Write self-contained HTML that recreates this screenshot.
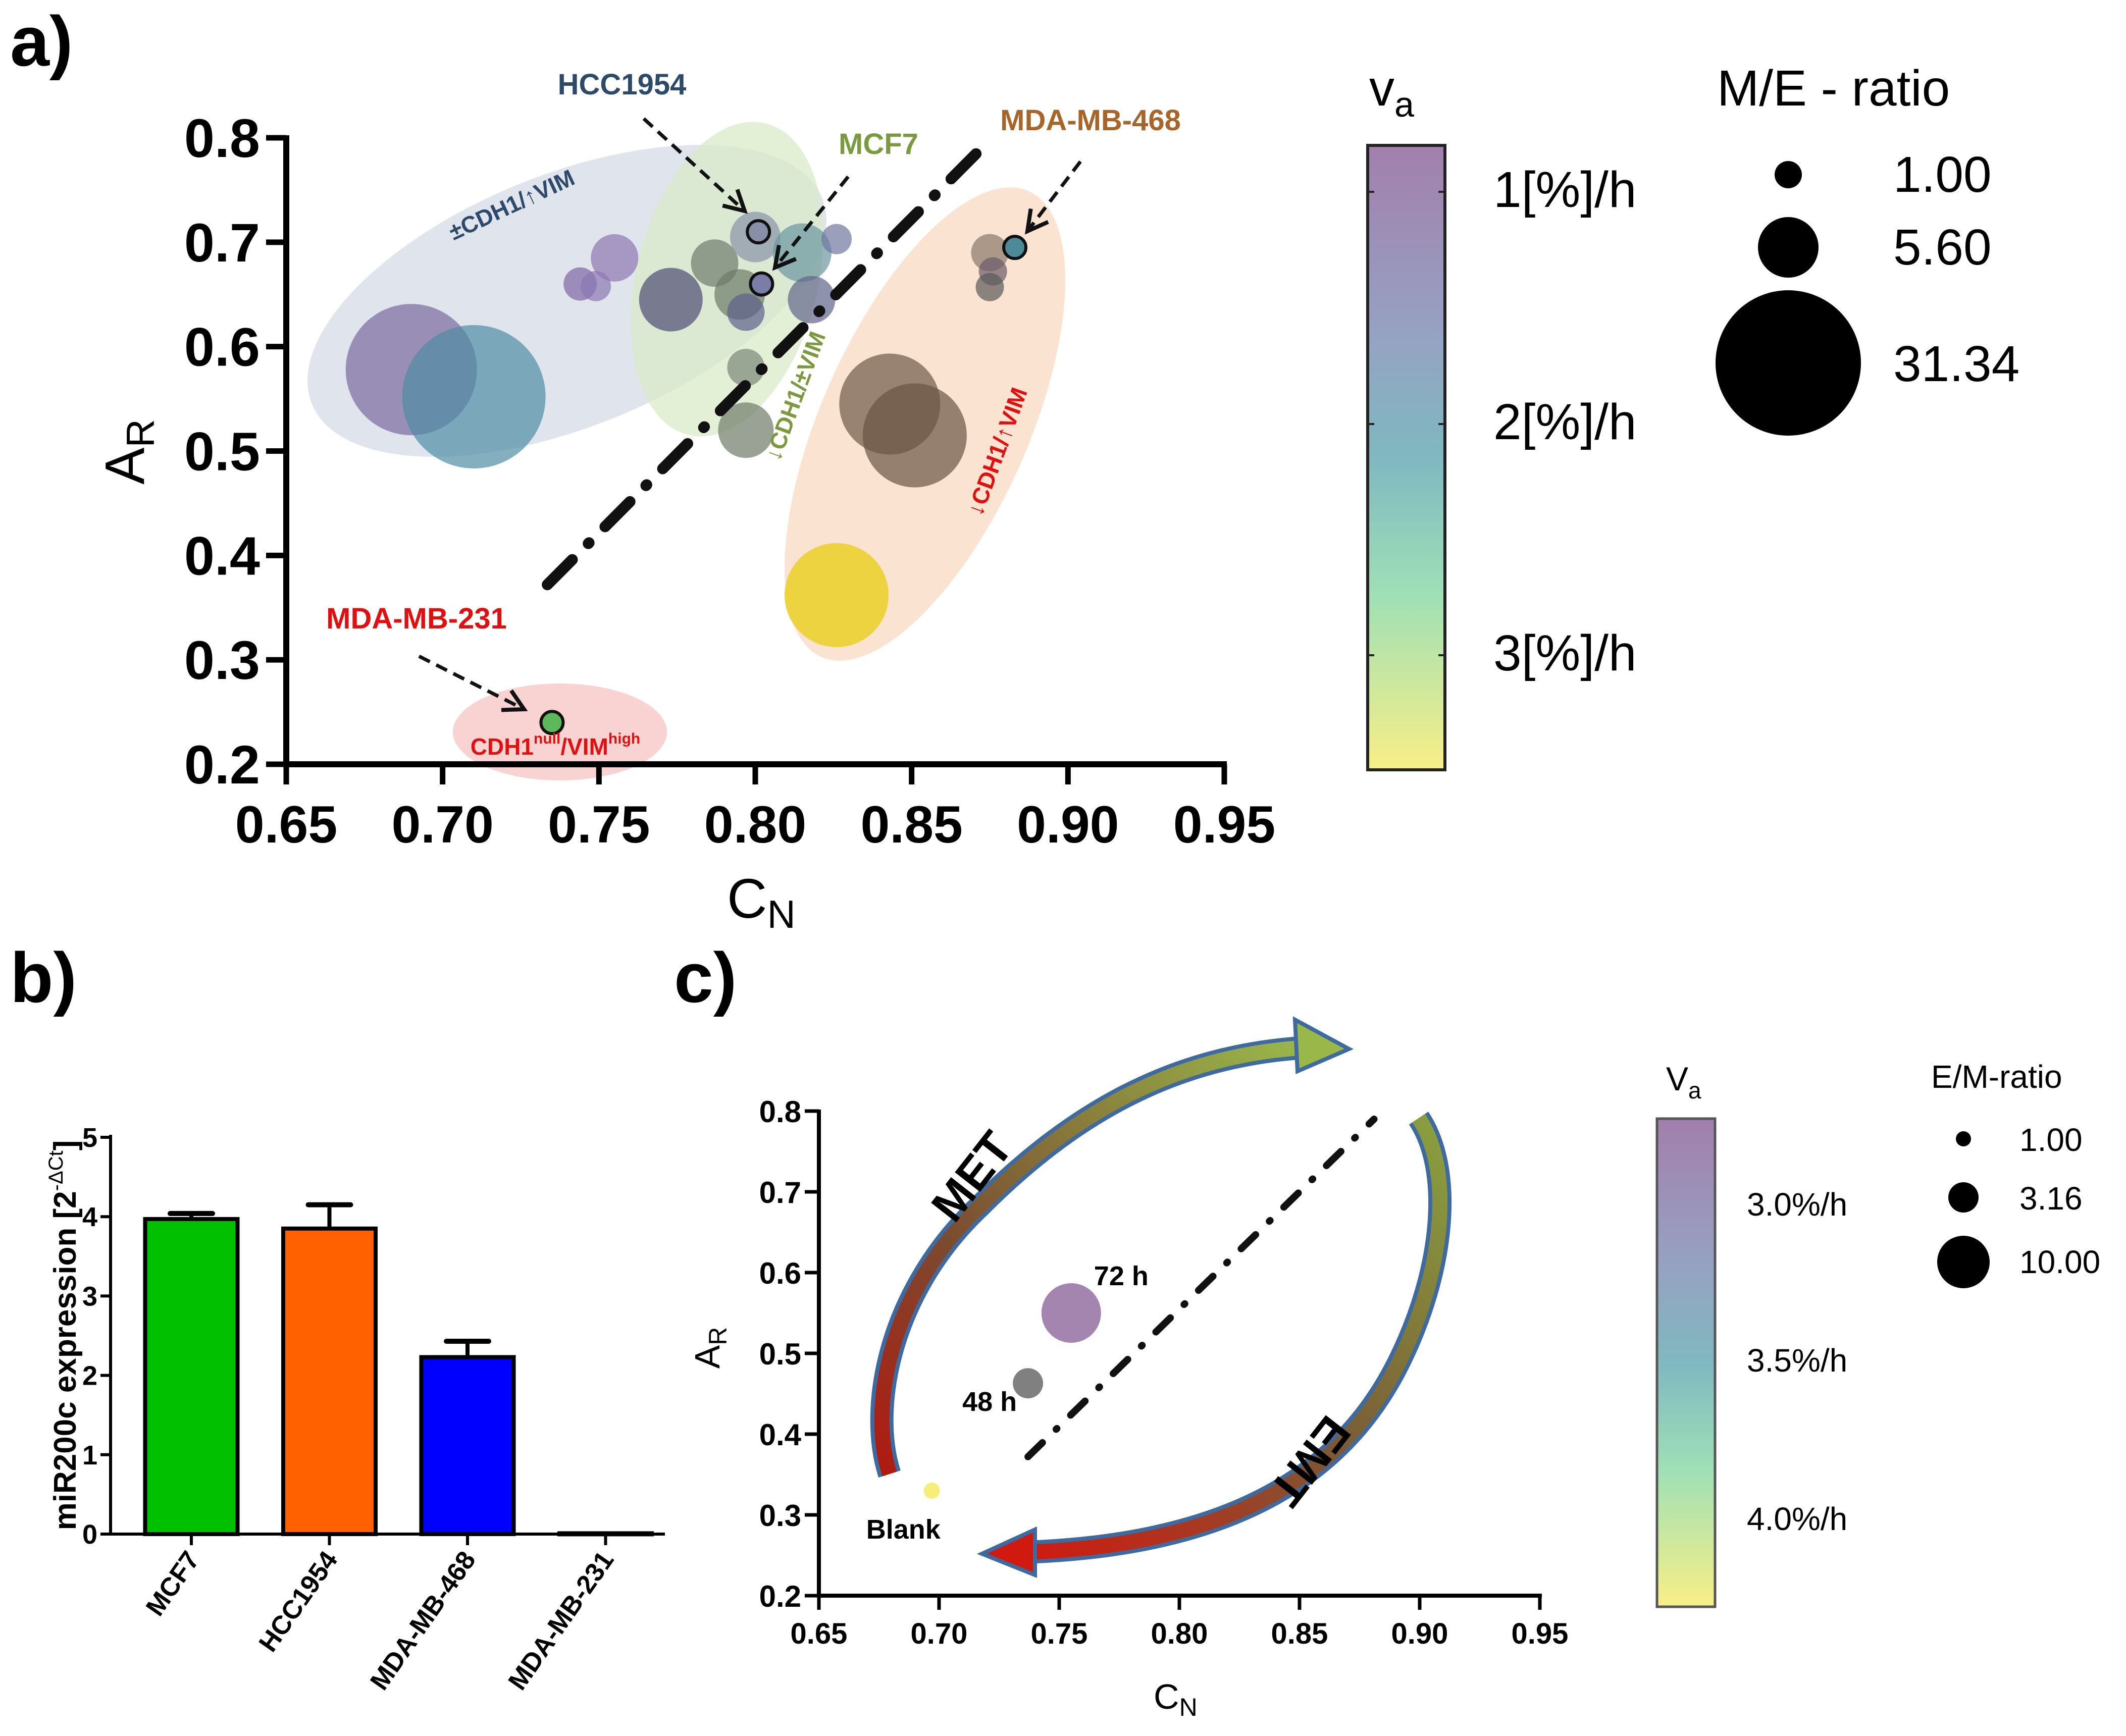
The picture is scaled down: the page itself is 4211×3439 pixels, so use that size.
<!DOCTYPE html>
<html><head><meta charset="utf-8"><style>
html,body{margin:0;padding:0;background:#fff}
svg{display:block}
text{font-family:"Liberation Sans",sans-serif}
</style></head><body>
<svg id="fig" width="4211" height="3439" viewBox="0 0 4211 3439" xmlns="http://www.w3.org/2000/svg">
<defs>
<linearGradient id="cmap" x1="0" y1="0" x2="0" y2="1">
<stop offset="0" stop-color="#a27fad"/><stop offset="0.3" stop-color="#96a2c2"/><stop offset="0.5" stop-color="#7fb8c0"/><stop offset="0.72" stop-color="#9fe0b6"/><stop offset="1" stop-color="#f8ef86"/>
</linearGradient>
<linearGradient id="metg" x1="0" y1="1" x2="1" y2="0">
<stop offset="0" stop-color="#b01a10"/><stop offset="0.35" stop-color="#7a4b30"/><stop offset="1" stop-color="#9ab84a"/>
</linearGradient>
<linearGradient id="emtg" x1="1" y1="0" x2="0" y2="1">
<stop offset="0" stop-color="#8aa040"/><stop offset="0.5" stop-color="#7a5a35"/><stop offset="1" stop-color="#d01a10"/>
</linearGradient>
</defs>

<text x="20" y="130" font-size="140" font-weight="bold">a)</text>
<text x="20" y="1985" font-size="140" font-weight="bold">b)</text>
<text x="1335" y="1985" font-size="140" font-weight="bold">c)</text>

<g id="pa">
 <ellipse cx="1123" cy="596" rx="545" ry="250" transform="rotate(-22 1123 596)" fill="#dadfea" opacity="0.85"/>
 <ellipse cx="1440" cy="553" rx="180" ry="318" transform="rotate(14 1440 553)" fill="#d9ebc8" opacity="0.75"/>
 <ellipse cx="1832" cy="840" rx="205" ry="505" transform="rotate(24 1832 840)" fill="#fbe0cc" opacity="0.9"/>
 <ellipse cx="1109" cy="1450" rx="212" ry="96" fill="#f9d3d1"/>
</g>

<g id="pb"></g>
<g id="pc"></g>

<text x="2712" y="209" font-size="100">v<tspan font-size="70" dy="22">a</tspan></text>
<rect x="2709" y="288" width="153" height="1237" fill="url(#cmap)" stroke="#222" stroke-width="6"/>
<g font-size="100">
 <line x1="2709" y1="380" x2="2722" y2="380" stroke="#222" stroke-width="4"/><line x1="2849" y1="380" x2="2862" y2="380" stroke="#222" stroke-width="4"/>
 <line x1="2709" y1="840" x2="2722" y2="840" stroke="#222" stroke-width="4"/><line x1="2849" y1="840" x2="2862" y2="840" stroke="#222" stroke-width="4"/>
 <line x1="2709" y1="1298" x2="2722" y2="1298" stroke="#222" stroke-width="4"/><line x1="2849" y1="1298" x2="2862" y2="1298" stroke="#222" stroke-width="4"/>
 <text x="2958" y="410">1[%]/h</text><text x="2958" y="870">2[%]/h</text><text x="2958" y="1328">3[%]/h</text>
</g>
<text x="3401" y="209" font-size="100">M/E - ratio</text>
<g>
 <circle cx="3542" cy="346" r="27"/><circle cx="3542" cy="490" r="60"/><circle cx="3542" cy="719" r="144"/>
 <g font-size="100"><text x="3750" y="380">1.00</text><text x="3750" y="524">5.60</text><text x="3750" y="755">31.34</text></g>
</g>

<text x="3300" y="2160" font-size="66">V<tspan font-size="46" dy="16">a</tspan></text>
<rect x="3282" y="2216" width="115" height="967" fill="url(#cmap)" stroke="#555" stroke-width="5"/>
<g font-size="64">
 <text x="3460" y="2408">3.0%/h</text><text x="3460" y="2717">3.5%/h</text><text x="3460" y="3031">4.0%/h</text>
</g>
<text x="3825" y="2155" font-size="64">E/M-ratio</text>
<g>
 <circle cx="3889" cy="2256" r="15"/><circle cx="3889" cy="2372" r="30"/><circle cx="3889" cy="2500" r="52"/>
 <g font-size="64"><text x="4000" y="2280">1.00</text><text x="4000" y="2396">3.16</text><text x="4000" y="2522">10.00</text></g>
</g>
</svg>
<script>
var NS='http://www.w3.org/2000/svg';
function mk(parent,tag,attrs){var e=document.createElementNS(NS,tag);for(var k in attrs)e.setAttribute(k,attrs[k]);parent.appendChild(e);return e;}

/* ---------- Panel a data ---------- */
var aXTicks=[0.65,0.70,0.75,0.80,0.85,0.90,0.95];
var aYTicks=[0.2,0.3,0.4,0.5,0.6,0.7,0.8];
var aCN=[0.690,0.710,0.755,0.744,0.749,0.773,0.787,0.800,0.815,0.826,0.795,0.797,0.818,0.797,0.797,0.875,0.876,0.875,0.843,0.851,0.826];
var aAR=[0.578,0.552,0.685,0.660,0.658,0.645,0.680,0.705,0.690,0.703,0.650,0.633,0.645,0.580,0.520,0.690,0.672,0.657,0.545,0.515,0.362];
var aSize=[130,142,47,33,30,63,47,50,58,30,50,37,47,37,55,37,28,28,100,103,103];
var aColor=['#7a6a9e','#4f8da4','#8f78b0','#7d66a6','#8a78b3','#4e4c72','#6f7a6e','#8a92a6','#6a95a0','#6f78a0','#6c7a68','#5d5f8a','#5f648a','#7b8677','#6f7a6a','#8a786a','#6a5a68','#5a5a5a','#6e5848','#6a5444','#ecd237'];
var aHiCN=[0.801,0.802,0.883,0.735];
var aHiAR=[0.710,0.660,0.695,0.240];
var aHiColor=['#8a8fa8','#7a7ea6','#4c8a98','#5cb85a'];
var aDivCN=[0.7335,0.875], aDivAR=[0.372,0.798];

var ax0=567,ax1=2425,ay0=1514,ay1=273;
function axX(v){return ax0+(v-0.65)/(0.95-0.65)*(ax1-ax0);}
function axY(v){return ay0-(v-0.2)/(0.8-0.2)*(ay0-ay1);}
var pa=document.getElementById('pa');
for(var i=0;i<aCN.length;i++){
 var c=mk(pa,'circle',{cx:axX(aCN[i]),cy:axY(aAR[i]),r:aSize[i],fill:aColor[i],'fill-opacity':i==20?0.95:0.7});
 
 
}
for(var i=0;i<aHiCN.length;i++){
 var c=mk(pa,'circle',{cx:axX(aHiCN[i]),cy:axY(aHiAR[i]),r:22,fill:aHiColor[i],stroke:'#111','stroke-width':6});
 
 
}
var dl=mk(pa,'line',{x1:axX(aDivCN[0]),y1:axY(aDivAR[0]),x2:axX(aDivCN[1]),y2:axY(aDivAR[1]),stroke:'#111','stroke-width':22,'stroke-dasharray':'70 45 2 45','stroke-linecap':'round'});



var axg=mk(pa,'g',{});


mk(axg,'line',{x1:ax0,y1:ay1-5,x2:ax0,y2:ay0+5,stroke:'#000','stroke-width':12});
mk(axg,'line',{x1:ax0-5,y1:ay0,x2:ax1+5,y2:ay0,stroke:'#000','stroke-width':12});
aXTicks.forEach(function(t){
 mk(axg,'line',{x1:axX(t),y1:ay0,x2:axX(t),y2:ay0+40,stroke:'#000','stroke-width':11});
 var tx=mk(axg,'text',{x:axX(t),y:ay0+155,'font-size':104,'font-weight':'bold','text-anchor':'middle'});
 tx.textContent=t.toFixed(2);
});
aYTicks.forEach(function(t){
 mk(axg,'line',{x1:ax0-40,y1:axY(t),x2:ax0,y2:axY(t),stroke:'#000','stroke-width':11});
 var tx=mk(axg,'text',{x:ax0-52,y:axY(t)+38,'font-size':108,'font-weight':'bold','text-anchor':'end'});
 tx.textContent=t.toFixed(1);
});
var yt=mk(axg,'text',{x:0,y:0,'font-size':110,transform:'translate(285,895) rotate(-90)','text-anchor':'middle'});
yt.innerHTML='A<tspan font-size="78" dy="20">R</tspan>';
var xt=mk(axg,'text',{x:1440,y:1818,'font-size':110});
xt.innerHTML='C<tspan font-size="78" dy="20">N</tspan>';

function lbl(x,y,txt,col,size,rot,name){var t=mk(pa,'text',{x:x,y:y,fill:col,'font-size':size,'font-weight':'bold','text-anchor':'middle'});if(rot)t.setAttribute('transform','rotate('+rot+' '+x+' '+y+')');t.innerHTML=txt;return t;}
lbl(1232,187,'HCC1954','#2e4a6b',58,0,'label-hcc1954');
lbl(1740,305,'MCF7','#7b9a3f',58,0,'label-mcf7');
lbl(2160,258,'MDA-MB-468','#a8652a',58,0,'label-mda-mb-468');
lbl(825,1245,'MDA-MB-231','#e01010',58,0,'label-mda-mb-231');
lbl(1100,1495,'CDH1<tspan font-size="30" dy="-22">null</tspan><tspan dy="22">/VIM</tspan><tspan font-size="30" dy="-22">high</tspan>','#e01010',46,0,'label-cdh1null');
lbl(1020,420,'±CDH1/↑VIM','#2e4a6b',46,-25,'label-group-hcc');
lbl(1590,790,'↓CDH1/±VIM','#7b9a3f',46,-70,'label-group-mcf7');
lbl(1990,900,'↓CDH1/↑VIM','#e01010',46,-70,'label-group-mda468');
function arr(x1,y1,x2,y2,name){var g=mk(pa,'g',{});
 mk(g,'line',{x1:x1,y1:y1,x2:x2,y2:y2,stroke:'#111','stroke-width':7,'stroke-dasharray':'24 14'});
 var a=Math.atan2(y2-y1,x2-x1),L=45;
 var p=[[x2-L*Math.cos(a-0.5),y2-L*Math.sin(a-0.5)],[x2,y2],[x2-L*Math.cos(a+0.5),y2-L*Math.sin(a+0.5)]];
 mk(g,'polyline',{points:p.join(' '),fill:'none',stroke:'#111','stroke-width':8});}
arr(1275,235,1475,418,'arrow-hcc1954');
arr(1680,350,1535,530,'arrow-mcf7');
arr(2140,320,2035,458,'arrow-mda-mb-468');
arr(830,1300,1038,1405,'arrow-mda-mb-231');

/* ---------- Panel b data ---------- */
var bCats=['MCF7','HCC1954','MDA-MB-468','MDA-MB-231'];
var bVals=[3.97,3.85,2.23,0.01];
var bErr=[0.07,0.30,0.20,0];
var bColors=['#00c000','#ff6000','#0000ff','#ffffff'];
var bYTicks=[0,1,2,3,4,5];
var bx0=219,bx1=1317,by0=3039,by5=2253;
function bY(v){return by0-v/5*(by0-by5);}
function bX(i){return 379+i*273.5;}
var pb=document.getElementById('pb');
for(var i=0;i<bCats.length;i++){
 var cx=bX(i),w=183;
 if(bErr[i]>0){
  var e=mk(pb,'g',{});
  
  
  mk(e,'line',{x1:cx,y1:bY(bVals[i]),x2:cx,y2:bY(bVals[i]+bErr[i]),stroke:'#000','stroke-width':8});
  mk(e,'line',{x1:cx-42,y1:bY(bVals[i]+bErr[i]),x2:cx+42,y2:bY(bVals[i]+bErr[i]),stroke:'#000','stroke-width':10,'stroke-linecap':'round'});
 }
 var r=mk(pb,'rect',{x:cx-w/2,y:bY(bVals[i]),width:w,height:Math.max(2,bY(0)-bY(bVals[i])),fill:bColors[i],stroke:'#000','stroke-width':8});
 
 
 mk(pb,'line',{x1:cx,y1:by0,x2:cx,y2:by0+22,stroke:'#000','stroke-width':6});
 var t=mk(pb,'text',{x:cx+18,y:by0+50,'font-size':52,'font-weight':'bold','text-anchor':'end',transform:'rotate(-55 '+(cx+18)+' '+(by0+50)+')'});
 t.textContent=bCats[i];
}
mk(pb,'line',{x1:bx0,y1:by5-5,x2:bx0,y2:by0+3,stroke:'#000','stroke-width':6});
mk(pb,'line',{x1:bx0,y1:by0,x2:bx1,y2:by0,stroke:'#000','stroke-width':6});
bYTicks.forEach(function(t){mk(pb,'line',{x1:bx0-20,y1:bY(t),x2:bx0,y2:bY(t),stroke:'#000','stroke-width':6});
 var tx=mk(pb,'text',{x:bx0-26,y:bY(t)+19,'font-size':54,'font-weight':'bold','text-anchor':'end'});tx.textContent=t;});
var bt=mk(pb,'text',{x:0,y:0,'font-size':62,'font-weight':'bold','text-anchor':'middle',transform:'translate(150,2645) rotate(-90)'});
bt.innerHTML='miR200c expression [2<tspan font-size="40" dy="-26" font-weight="normal">-ΔCt</tspan><tspan dy="26">]</tspan>';

/* ---------- Panel c data ---------- */
var cXTicks=[0.65,0.70,0.75,0.80,0.85,0.90,0.95];
var cYTicks=[0.2,0.3,0.4,0.5,0.6,0.7,0.8];
var cCN=[0.755,0.737,0.697];
var cAR=[0.550,0.463,0.330];
var cSize=[59,30,16];
var cColor=['#a485b0','#808080','#f7ee7a'];
var cNames=['72 h','48 h','Blank'];
var cDivCN=[0.737,0.881], cDivAR=[0.372,0.790];
var cx0=1622,cx1=3050,cy0=3161,cy1=2201;
function cX(v){return cx0+(v-0.65)/(0.3)*(cx1-cx0);}
function cY(v){return cy0-(v-0.2)/0.6*(cy0-cy1);}
var pc=document.getElementById('pc');
var met=mk(pc,'g',{});
var metD='M1762,2920 C1720,2790 1760,2560 1940,2390 C2120,2210 2320,2090 2590,2075';
mk(met,'path',{d:metD,fill:'none',stroke:'#3f6aa0','stroke-width':46});
mk(met,'path',{d:metD,fill:'none',stroke:'url(#metg)','stroke-width':30});
mk(met,'polygon',{points:'2565,2020 2672,2078 2570,2122',fill:'#9ab84a',stroke:'#3f6aa0','stroke-width':8});
var emt=mk(pc,'g',{});
var emtD='M2810,2215 C2880,2320 2860,2520 2770,2700 C2670,2900 2470,3060 2030,3075';
mk(emt,'path',{d:emtD,fill:'none',stroke:'#3f6aa0','stroke-width':46});
mk(emt,'path',{d:emtD,fill:'none',stroke:'url(#emtg)','stroke-width':30});
mk(emt,'polygon',{points:'2050,3030 1945,3078 2050,3120',fill:'#d01a10',stroke:'#3f6aa0','stroke-width':8});
var mt=mk(pc,'text',{x:1950,y:2350,'font-size':92,'font-weight':'bold','text-anchor':'middle',transform:'rotate(-52 1950 2350)'});mt.textContent='MET';

var et=mk(pc,'text',{x:2570,y:2875,'font-size':92,'font-weight':'bold','text-anchor':'middle',transform:'rotate(128 2570 2875)'});et.textContent='EMT';

var cdl=mk(pc,'line',{x1:cX(cDivCN[0]),y1:cY(cDivAR[0]),x2:cX(cDivCN[1]),y2:cY(cDivAR[1]),stroke:'#111','stroke-width':14,'stroke-dasharray':'40 38 2 38','stroke-linecap':'round'});

var lblOff=[[45,-55],[-130,55],[-130,95]];
for(var i=0;i<cCN.length;i++){
 var p=mk(pc,'circle',{cx:cX(cCN[i]),cy:cY(cAR[i]),r:cSize[i],fill:cColor[i]});
 
 
 var t=mk(pc,'text',{x:cX(cCN[i])+lblOff[i][0],y:cY(cAR[i])+lblOff[i][1],'font-size':54,'font-weight':'bold'});t.textContent=cNames[i];
}
var cax=mk(pc,'g',{});
mk(cax,'line',{x1:cx0,y1:cy1-3,x2:cx0,y2:cy0+4,stroke:'#000','stroke-width':8});
mk(cax,'line',{x1:cx0-4,y1:cy0,x2:cx1+4,y2:cy0,stroke:'#000','stroke-width':8});
cXTicks.forEach(function(t){mk(cax,'line',{x1:cX(t),y1:cy0,x2:cX(t),y2:cy0+28,stroke:'#000','stroke-width':7});
 var tx=mk(cax,'text',{x:cX(t),y:cy0+95,'font-size':58,'font-weight':'bold','text-anchor':'middle'});tx.textContent=t.toFixed(2);});
cYTicks.forEach(function(t){mk(cax,'line',{x1:cx0-28,y1:cY(t),x2:cx0,y2:cY(t),stroke:'#000','stroke-width':7});
 var tx=mk(cax,'text',{x:cx0-35,y:cY(t)+22,'font-size':60,'font-weight':'bold','text-anchor':'end'});tx.textContent=t.toFixed(1);});
var cyt=mk(cax,'text',{x:0,y:0,'font-size':70,'text-anchor':'middle',transform:'translate(1425,2670) rotate(-90)'});
cyt.innerHTML='A<tspan font-size="50" dy="14">R</tspan>';
var cxt=mk(cax,'text',{x:2285,y:3385,'font-size':70});
cxt.innerHTML='C<tspan font-size="50" dy="14">N</tspan>';
</script>
</body></html>
